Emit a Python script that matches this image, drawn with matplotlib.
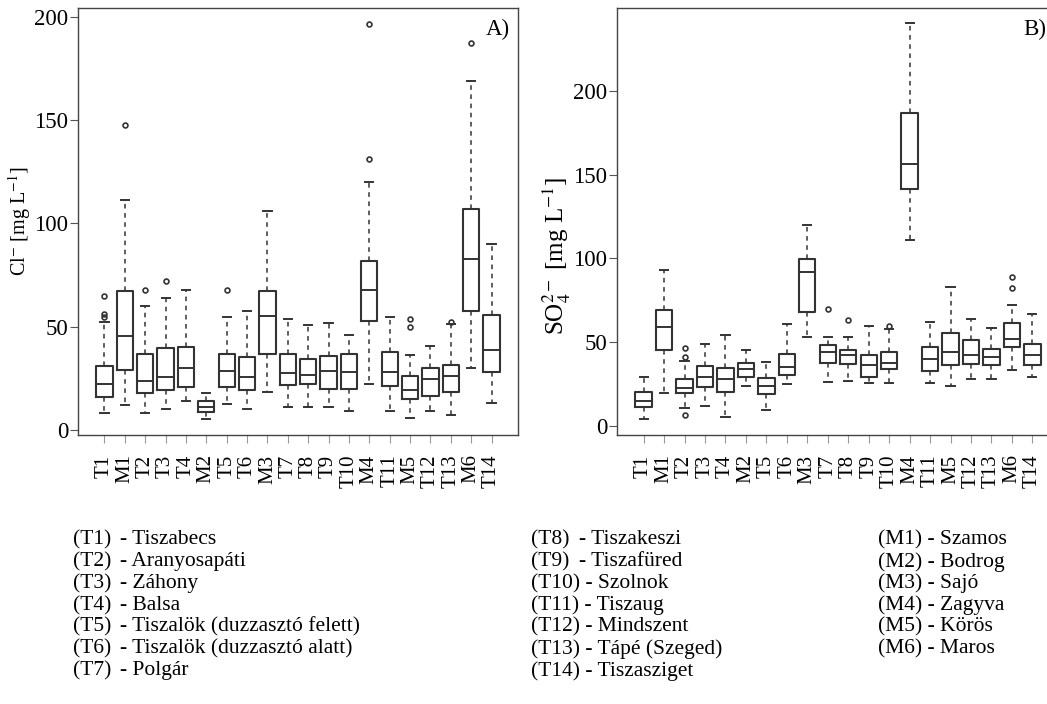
import matplotlib
matplotlib.use("Agg")
from matplotlib import pyplot as plt

plt.rcParams['font.family'] = ['Liberation Serif', 'DejaVu Serif']
plt.rcParams['mathtext.fontset'] = 'stix'

sites = ["T1", "M1", "T2", "T3", "T4", "M2", "T5", "T6", "M3", "T7",
         "T8", "T9", "T10", "M4", "T11", "M5", "T12", "T13", "M6", "T14"]

# Cl- [mg/L]
cl_low = [8.1, 12.1, 8.1, 10.1, 14.2, 5.3, 12.6, 10.1, 18.4, 11.1,
          11.0, 11.0, 9.1, 22.2, 9.1, 5.7, 9.1, 7.2, 30.0, 13.0]
cl_q1 = [15.8, 28.9, 17.8, 19.6, 21.0, 8.7, 21.0, 19.6, 36.9, 22.0,
         22.3, 20.1, 20.1, 52.9, 21.2, 14.9, 16.7, 18.3, 57.6, 28.1]
cl_med = [22.2, 45.4, 23.9, 25.9, 30.0, 11.0, 28.6, 25.9, 55.2, 27.7,
          26.8, 28.8, 28.2, 68.0, 28.2, 19.3, 24.8, 26.4, 83.0, 38.9]
cl_q3 = [31.2, 67.3, 37.0, 39.5, 40.4, 14.2, 37.0, 35.4, 67.3, 36.6,
         34.3, 35.9, 37.0, 81.7, 37.8, 26.0, 30.0, 31.6, 106.8, 55.6]
cl_high = [52.1, 111.3, 59.9, 63.9, 67.8, 17.8, 54.5, 57.7, 105.8, 53.6,
           51.0, 52.0, 45.8, 120.2, 54.5, 36.1, 40.6, 51.5, 169.2, 90.3]
cl_out = [[54.5, 56.0, 65.0], [147.7], [67.6], [72.0], [], [], [67.6], [], [], [],
          [], [], [], [131.0, 196.6], [], [49.8, 53.9], [], [52.4], [187.4], []]

# SO4 2- [mg/L]
so_low = [4.4, 19.9, 10.8, 11.8, 5.2, 23.9, 9.6, 25.3, 53.0, 26.5,
          26.9, 25.9, 25.9, 110.8, 25.9, 23.9, 27.9, 27.9, 33.3, 29.1]
so_q1 = [11.2, 45.6, 19.5, 23.1, 20.3, 29.5, 19.1, 30.3, 68.0, 37.8,
         36.9, 29.1, 33.7, 141.3, 32.5, 36.1, 36.9, 36.1, 47.0, 36.1]
so_med = [14.9, 59.2, 22.9, 29.3, 28.1, 33.9, 23.9, 35.1, 92.0, 44.4,
          42.3, 36.3, 37.7, 156.2, 40.2, 44.0, 42.6, 41.2, 51.8, 42.6]
so_q3 = [20.3, 69.3, 28.1, 35.9, 34.3, 37.8, 28.5, 43.0, 99.6, 48.2,
         45.2, 42.3, 44.0, 186.5, 47.2, 55.6, 51.4, 46.0, 61.6, 49.0]
so_high = [29.3, 92.8, 38.9, 49.2, 54.4, 45.2, 38.4, 61.0, 120.0, 53.2,
           53.2, 59.6, 58.0, 240.3, 62.0, 82.7, 63.9, 58.2, 72.1, 66.8]
so_out = [[], [], [6.4, 41.4, 46.8], [], [], [], [], [], [], [69.9],
          [63.5], [], [59.8], [], [], [], [], [], [82.5, 88.9], []]

t_labels = ["(T1)", "(T2)", "(T3)", "(T4)", "(T5)", "(T6)", "(T7)"]
t_names = ["- Tiszabecs", "- Aranyosapáti", "- Záhony", "- Balsa",
           "- Tiszalök (duzzasztó felett)", "- Tiszalök (duzzasztó alatt)", "- Polgár"]
t2_labels = ["(T8)", "(T9)", "(T10)", "(T11)", "(T12)", "(T13)", "(T14)"]
t2_names = ["- Tiszakeszi", "- Tiszafüred", "- Szolnok", "- Tiszaug",
            "- Mindszent", "- Tápé (Szeged)", "- Tiszasziget"]
m_rows = ["(M1) - Szamos", "(M2) - Bodrog", "(M3) - Sajó", "(M4) - Zagyva",
          "(M5) - Körös", "(M6) - Maros"]


def make_stats(low, q1, med, q3, high, out):
    stats = []
    for i in range(len(sites)):
        stats.append({"whislo": low[i], "q1": q1[i], "med": med[i], "q3": q3[i],
                      "whishi": high[i], "fliers": out[i], "label": sites[i]})
    return stats


def draw_panel(ax, stats, ylabel, label_size, label_y, ticks, ylim):
    ax.bxp(stats, widths=0.8, showfliers=True,
           boxprops=dict(color="#333333", linewidth=1.5),
           medianprops=dict(color="#333333", linewidth=1.4),
           whiskerprops=dict(color="#333333", linewidth=1.1, linestyle=(0, (3, 3))),
           capprops=dict(color="#333333", linewidth=1.4),
           flierprops=dict(marker="o", markersize=3.5, markerfacecolor="none",
                           markeredgecolor="#333333", markeredgewidth=1.2))
    ax.set_xlim(-0.3, 21.3)
    ax.set_ylim(*ylim)
    ax.set_yticks(ticks)
    ax.set_xticks(range(1, len(sites) + 1))
    ax.set_xticklabels(sites, rotation=90, fontsize=15)
    ax.tick_params(axis="y", labelsize=16.5, length=6, color="#555555", pad=1)
    ax.tick_params(axis="x", length=6, color="#999999", pad=8)
    for s in ax.spines.values():
        s.set_color("#444444")
        s.set_linewidth(1.0)
    ax.set_ylabel(ylabel, fontsize=label_size)
    ax.yaxis.set_label_coords(-0.102, label_y)


fig = plt.figure(figsize=(10.47, 7.04), dpi=100)
ax1 = fig.add_axes([78 / 1047, 1 - 435 / 704, 440 / 1047, 427 / 704])
ax2 = fig.add_axes([617 / 1047, 1 - 435 / 704, 442 / 1047, 427 / 704])

draw_panel(ax1, make_stats(cl_low, cl_q1, cl_med, cl_q3, cl_high, cl_out),
           r"Cl$^{-}$ [mg L$^{-1}$]", 14.5, 0.5, [0, 50, 100, 150, 200], (-2.4, 204.3))
draw_panel(ax2, make_stats(so_low, so_q1, so_med, so_q3, so_high, so_out),
           r"SO$_4^{2-}$ [mg L$^{-1}$]", 18, 0.42, [0, 50, 100, 150, 200], (-5.4, 249.4))

fig.text(510 / 1047, 1 - 19 / 704, "A)", ha="right", va="top", fontsize=16.5)
fig.text(1046 / 1047, 1 - 19 / 704, "B)", ha="right", va="top", fontsize=16.5)

y0 = 540
dy = 21.8
fs = 15.5
for i in range(7):
    yy = 1 - (y0 + dy * i) / 704
    fig.text(73 / 1047, yy, t_labels[i], fontsize=fs, va="center")
    fig.text(120 / 1047, yy, t_names[i], fontsize=fs, va="center")
    if i < 2:
        fig.text(531 / 1047, yy, t2_labels[i], fontsize=fs, va="center")
        fig.text(579 / 1047, yy, t2_names[i], fontsize=fs, va="center")
    else:
        fig.text(531 / 1047, yy, t2_labels[i] + " " + t2_names[i], fontsize=fs, va="center")
    if i < 6:
        fig.text(878 / 1047, yy, m_rows[i], fontsize=fs, va="center")

fig.savefig("out.png", dpi=100)
